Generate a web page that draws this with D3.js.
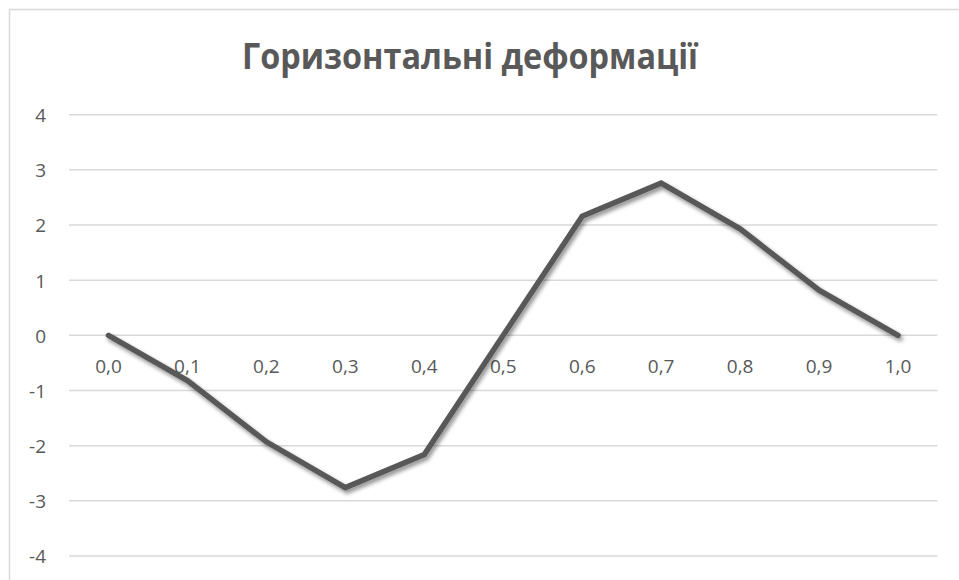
<!DOCTYPE html>
<html>
<head>
<meta charset="utf-8">
<script src="https://cdn.jsdelivr.net/npm/d3@7"></script>
<style>
  html, body { margin: 0; padding: 0; background: #fff; }
  svg { display: block; }
</style>
</head>
<body>
<svg id="chart" width="959" height="580"></svg>
<script>
// Chart data
const categories = ["0,0", "0,1", "0,2", "0,3", "0,4", "0,5", "0,6", "0,7", "0,8", "0,9", "1,0"];
const values = [0, -0.82, -1.93, -2.76, -2.16, 0, 2.16, 2.76, 1.93, 0.82, 0];
const yTicks = [-4, -3, -2, -1, 0, 1, 2, 3, 4];
const titleText = "Горизонтальні деформації";

const svg = d3.select("#chart");
const W = 959, H = 580;
const plot = { left: 69, right: 937.5, top: 114.7, bottom: 556 };
const textColor = "#595959";
const font = "'Open Sans', 'Liberation Sans', sans-serif";

// Outer chart frame
svg.append("rect")
  .attr("x", 9.5).attr("y", 9.5)
  .attr("width", W).attr("height", H)
  .attr("fill", "#fff")
  .attr("stroke", "#d9d9d9").attr("stroke-width", 1.5);

// Drop shadow for the series line
const defs = svg.append("defs");
const f = defs.append("filter").attr("id", "shadow")
  .attr("x", "-10%").attr("y", "-10%").attr("width", "120%").attr("height", "130%");
f.append("feGaussianBlur").attr("in", "SourceAlpha").attr("stdDeviation", 2.2).attr("result", "blur");
f.append("feOffset").attr("in", "blur").attr("dx", 1.5).attr("dy", 3).attr("result", "off");
f.append("feComponentTransfer").attr("in", "off").attr("result", "shade")
  .append("feFuncA").attr("type", "linear").attr("slope", 0.45);
const merge = f.append("feMerge");
merge.append("feMergeNode").attr("in", "shade");
merge.append("feMergeNode").attr("in", "SourceGraphic");

// Scales
const x = d3.scaleBand().domain(categories).range([plot.left, plot.right]);
const y = d3.scaleLinear().domain([-4, 4]).range([plot.bottom, plot.top]);

// Horizontal gridlines
svg.append("g")
  .selectAll("line")
  .data(yTicks)
  .join("line")
  .attr("x1", plot.left).attr("x2", plot.right)
  .attr("y1", d => y(d)).attr("y2", d => y(d))
  .attr("stroke", "#d9d9d9").attr("stroke-width", 1.5);

// Y axis labels
const yAxis = d3.axisLeft(y).tickValues(yTicks).tickSize(0).tickPadding(0)
  .tickFormat(d => String(d).replace("\u2212", "-"));
const gy = svg.append("g").attr("transform", "translate(46,0)").call(yAxis);
gy.select(".domain").remove();
gy.selectAll("text")
  .attr("fill", textColor)
  .style("font-family", font).style("font-size", "19px")
  .attr("dy", "0.36em");

// X axis labels, placed along the zero line
const xAxis = d3.axisBottom(x).tickSize(0).tickPadding(0);
const gx = svg.append("g").attr("transform", `translate(0,${y(0)})`).call(xAxis);
gx.select(".domain").remove();
gx.selectAll("text")
  .attr("fill", textColor)
  .style("font-family", font).style("font-size", "19px")
  .attr("y", 38).attr("dy", 0);

// Series line
const line = d3.line()
  .x((d, i) => x(categories[i]) + x.bandwidth() / 2)
  .y(d => y(d));
svg.append("path")
  .datum(values)
  .attr("d", line)
  .attr("fill", "none")
  .attr("stroke", "#595959")
  .attr("stroke-width", 5.5)
  .attr("stroke-linejoin", "miter")
  .attr("stroke-linecap", "round")
  .attr("filter", "url(#shadow)");

// Title
svg.append("text")
  .attr("x", 470).attr("y", 68.5)
  .attr("text-anchor", "middle")
  .attr("fill", textColor)
  .style("font-family", font).style("font-size", "35px").style("font-weight", "bold")
  .attr("textLength", 456).attr("lengthAdjust", "spacingAndGlyphs")
  .text(titleText);
</script>
</body>
</html>
